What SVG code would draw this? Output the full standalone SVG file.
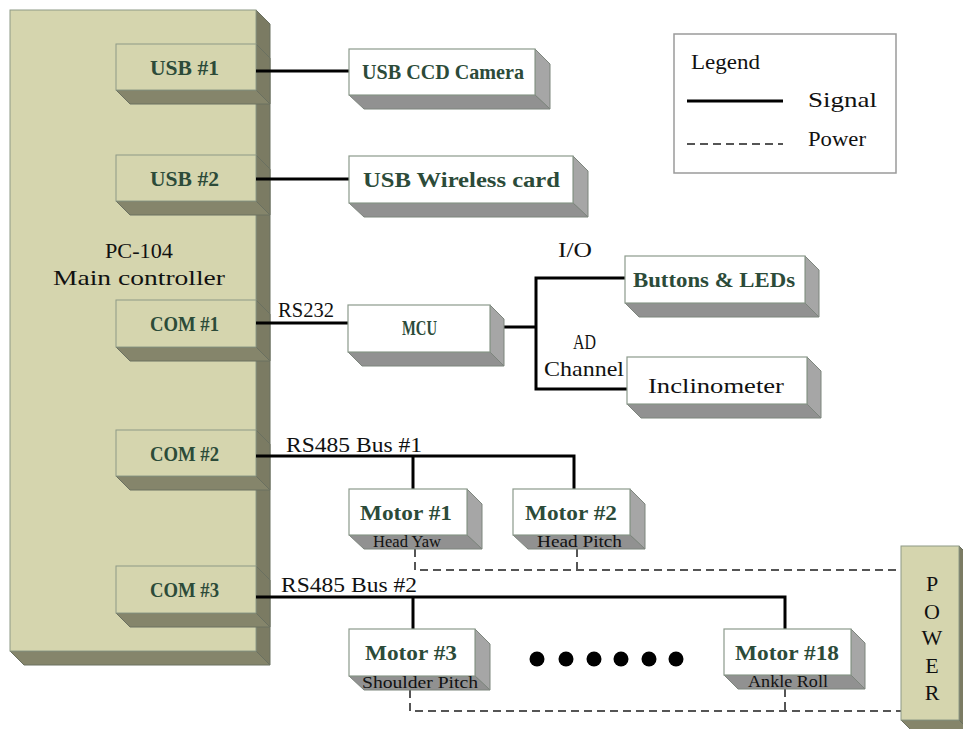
<svg xmlns="http://www.w3.org/2000/svg" width="963" height="729" viewBox="0 0 963 729">
  <style>
    .kfront { fill: #d5d5ae; stroke: #8e9a86; stroke-width: 1; }
    .kside { fill: #7b7b63; stroke: #6a7060; stroke-width: 1; }
    .kbottom { fill: #85856b; stroke: #6a7060; stroke-width: 1; }
    .wfront { fill: #ffffff; stroke: #8c9a8c; stroke-width: 1.2; }
    .wside { fill: #a6a6a6; stroke: #7d857d; stroke-width: 1; }
    .wbottom { fill: #919191; stroke: #7d857d; stroke-width: 1; }
    .t { font-family: "Liberation Serif", "Times New Roman", serif; font-size: 22px; fill: #111; }
    .tg { font-family: "Liberation Serif", "Times New Roman", serif; font-size: 22px; font-weight: bold; fill: #2c4b39; }
    .ts { font-family: "Liberation Serif", "Times New Roman", serif; font-size: 16px; fill: #111; }
    .mid { text-anchor: middle; }
    .sig { fill: none; stroke: #000; stroke-width: 3; }
    .pwr { fill: none; stroke: #555; stroke-width: 2; stroke-dasharray: 8 5; }
  </style>

  <!-- main controller board -->
  <g id="pc104">
    <polygon class="kside" points="256,10 270,24 270,665 256,651"/>
    <polygon class="kbottom" points="10,651 256,651 270,665 24,665"/>
    <rect class="kfront" x="10" y="10" width="246" height="641"/>
    <text class="t" x="105" y="258" textLength="68" lengthAdjust="spacingAndGlyphs">PC-104</text>
    <text class="t" x="53" y="285" textLength="172" lengthAdjust="spacingAndGlyphs">Main controller</text>
  </g>

  <!-- ports on the board -->
  <g id="usb1">
    <polygon class="kside" points="256,44 270,58 270,104 256,90"/>
    <polygon class="kbottom" points="116,90 256,90 270,104 130,104"/>
    <rect class="kfront" x="116" y="44" width="140" height="46"/>
    <text class="tg" x="150" y="75" textLength="69" lengthAdjust="spacingAndGlyphs">USB #1</text>
  </g>
  <g id="usb2">
    <polygon class="kside" points="256,155 270,169 270,215 256,201"/>
    <polygon class="kbottom" points="116,201 256,201 270,215 130,215"/>
    <rect class="kfront" x="116" y="155" width="140" height="46"/>
    <text class="tg" x="150" y="186" textLength="69" lengthAdjust="spacingAndGlyphs">USB #2</text>
  </g>
  <g id="com1">
    <polygon class="kside" points="256,300 270,314 270,361 256,347"/>
    <polygon class="kbottom" points="116,347 256,347 270,361 130,361"/>
    <rect class="kfront" x="116" y="300" width="140" height="47"/>
    <text class="tg" x="150" y="331" textLength="69" lengthAdjust="spacingAndGlyphs">COM #1</text>
  </g>
  <g id="com2">
    <polygon class="kside" points="256,430 270,444 270,490 256,476"/>
    <polygon class="kbottom" points="116,476 256,476 270,490 130,490"/>
    <rect class="kfront" x="116" y="430" width="140" height="46"/>
    <text class="tg" x="150" y="461" textLength="69" lengthAdjust="spacingAndGlyphs">COM #2</text>
  </g>
  <g id="com3">
    <polygon class="kside" points="256,566 270,580 270,627 256,613"/>
    <polygon class="kbottom" points="116,613 256,613 270,627 130,627"/>
    <rect class="kfront" x="116" y="566" width="140" height="47"/>
    <text class="tg" x="150" y="597" textLength="69" lengthAdjust="spacingAndGlyphs">COM #3</text>
  </g>

  <!-- connectors -->
  <g id="connectors">
    <line class="sig" x1="256" y1="71" x2="349" y2="71"/>
    <line class="sig" x1="256" y1="179" x2="349" y2="179"/>
    <line class="sig" x1="256" y1="323" x2="349" y2="323"/>
    <line class="sig" x1="490" y1="327" x2="536" y2="327"/>
    <polyline class="sig" points="625,278 536,278 536,389 627,389"/>
    <polyline class="sig" points="256,456 574,456 574,489"/>
    <line class="sig" x1="413" y1="456" x2="413" y2="489"/>
    <polyline class="sig" points="256,597 785,597 785,629"/>
    <line class="sig" x1="413" y1="597" x2="413" y2="629"/>
    <polyline class="pwr" points="415,549 415,570 901,570"/>
    <line class="pwr" x1="577" y1="549" x2="577" y2="570"/>
    <polyline class="pwr" points="410,690 410,711 901,711"/>
    <line class="pwr" x1="785" y1="689" x2="785" y2="711"/>
    <text class="t" x="278" y="317" textLength="56" lengthAdjust="spacingAndGlyphs">RS232</text>
    <text class="t" x="286" y="452" textLength="136" lengthAdjust="spacingAndGlyphs">RS485 Bus #1</text>
    <text class="t" x="281" y="592" textLength="136" lengthAdjust="spacingAndGlyphs">RS485 Bus #2</text>
    <text class="t" x="558" y="257" textLength="34" lengthAdjust="spacingAndGlyphs">I/O</text>
    <text class="t" x="573" y="349" textLength="23" lengthAdjust="spacingAndGlyphs">AD</text>
    <text class="t" x="544" y="376" textLength="80" lengthAdjust="spacingAndGlyphs">Channel</text>
  </g>

  <!-- peripheral devices -->
  <g id="camera">
    <polygon class="wside" points="535,49 550,64 550,109 535,95"/>
    <polygon class="wbottom" points="349,95 535,95 550,109 364,109"/>
    <rect class="wfront" x="349" y="49" width="186" height="46"/>
    <text class="tg" x="362" y="79" textLength="162" lengthAdjust="spacingAndGlyphs">USB CCD Camera</text>
  </g>
  <g id="wireless">
    <polygon class="wside" points="573,156 588,171 588,217 573,203"/>
    <polygon class="wbottom" points="349,203 573,203 588,217 364,217"/>
    <rect class="wfront" x="349" y="156" width="224" height="47"/>
    <text class="tg" x="363" y="187" textLength="197" lengthAdjust="spacingAndGlyphs">USB Wireless card</text>
  </g>
  <g id="mcu">
    <polygon class="wside" points="490,305 504,319 504,366 490,352"/>
    <polygon class="wbottom" points="348,352 490,352 504,366 362,366"/>
    <rect class="wfront" x="348" y="305" width="142" height="47"/>
    <text class="tg" x="402" y="335" textLength="35" lengthAdjust="spacingAndGlyphs">MCU</text>
  </g>
  <g id="buttons">
    <polygon class="wside" points="805,256 819,270 819,317 805,303"/>
    <polygon class="wbottom" points="625,303 805,303 819,317 639,317"/>
    <rect class="wfront" x="625" y="256" width="180" height="47"/>
    <text class="tg" x="633" y="287" textLength="162" lengthAdjust="spacingAndGlyphs">Buttons &amp; LEDs</text>
  </g>
  <g id="inclinometer">
    <polygon class="wside" points="807,357 821,371 821,418 807,404"/>
    <polygon class="wbottom" points="627,404 807,404 821,418 641,418"/>
    <rect class="wfront" x="627" y="357" width="180" height="47"/>
    <text class="t" x="648" y="393" textLength="136" lengthAdjust="spacingAndGlyphs">Inclinometer</text>
  </g>

  <!-- motors -->
  <g id="motor1">
    <polygon class="wside" points="467,489 482,504 482,549 467,535"/>
    <polygon class="wbottom" points="349,535 467,535 482,549 364,549"/>
    <rect class="wfront" x="349" y="489" width="118" height="46"/>
    <text class="tg" x="360" y="520" textLength="92" lengthAdjust="spacingAndGlyphs">Motor #1</text>
    <text class="ts" x="373" y="547" textLength="68" lengthAdjust="spacingAndGlyphs">Head Yaw</text>
  </g>
  <g id="motor2">
    <polygon class="wside" points="630,489 645,504 645,549 630,535"/>
    <polygon class="wbottom" points="513,535 630,535 645,549 528,549"/>
    <rect class="wfront" x="513" y="489" width="117" height="46"/>
    <text class="tg" x="525" y="520" textLength="92" lengthAdjust="spacingAndGlyphs">Motor #2</text>
    <text class="ts" x="537" y="547" textLength="85" lengthAdjust="spacingAndGlyphs">Head Pitch</text>
  </g>
  <g id="motor3">
    <polygon class="wside" points="475,629 490,644 490,690 475,676"/>
    <polygon class="wbottom" points="349,676 475,676 490,690 364,690"/>
    <rect class="wfront" x="349" y="629" width="126" height="47"/>
    <text class="tg" x="365" y="660" textLength="92" lengthAdjust="spacingAndGlyphs">Motor #3</text>
    <text class="ts" x="362" y="688" textLength="116" lengthAdjust="spacingAndGlyphs">Shoulder Pitch</text>
  </g>
  <g id="more-motors">
    <circle cx="537" cy="659" r="7.5" fill="#000"/>
    <circle cx="566" cy="659" r="7.5" fill="#000"/>
    <circle cx="594" cy="659" r="7.5" fill="#000"/>
    <circle cx="621" cy="659" r="7.5" fill="#000"/>
    <circle cx="649" cy="659" r="7.5" fill="#000"/>
    <circle cx="676" cy="659" r="7.5" fill="#000"/>
  </g>
  <g id="motor18">
    <polygon class="wside" points="851,629 865,643 865,689 851,675"/>
    <polygon class="wbottom" points="724,675 851,675 865,689 738,689"/>
    <rect class="wfront" x="724" y="629" width="127" height="46"/>
    <text class="tg" x="735" y="660" textLength="104" lengthAdjust="spacingAndGlyphs">Motor #18</text>
    <text class="ts" x="748" y="687" textLength="80" lengthAdjust="spacingAndGlyphs">Ankle Roll</text>
  </g>

  <!-- power supply -->
  <g id="power">
    <polygon class="kside" points="959,546 973,560 973,734 959,720"/>
    <polygon class="kbottom" points="901,720 959,720 973,734 915,734"/>
    <rect class="kfront" x="901" y="546" width="58" height="174"/>
    <text class="t mid" x="932" y="591">P</text>
    <text class="t mid" x="932" y="619">O</text>
    <text class="t mid" x="932" y="645">W</text>
    <text class="t mid" x="932" y="673">E</text>
    <text class="t mid" x="932" y="700">R</text>
  </g>

  <!-- legend -->
  <g id="legend">
    <rect x="674" y="34" width="222" height="139" fill="#fff" stroke="#9a9a9a" stroke-width="1.5"/>
    <text class="t" x="691" y="69" textLength="69" lengthAdjust="spacingAndGlyphs">Legend</text>
    <line class="sig" x1="687" y1="101" x2="783" y2="101"/>
    <text class="t" x="808" y="107" textLength="69" lengthAdjust="spacingAndGlyphs">Signal</text>
    <line class="pwr" x1="687" y1="144" x2="783" y2="144" stroke-width="1.5"/>
    <text class="t" x="808" y="146" textLength="58" lengthAdjust="spacingAndGlyphs">Power</text>
  </g>
</svg>
